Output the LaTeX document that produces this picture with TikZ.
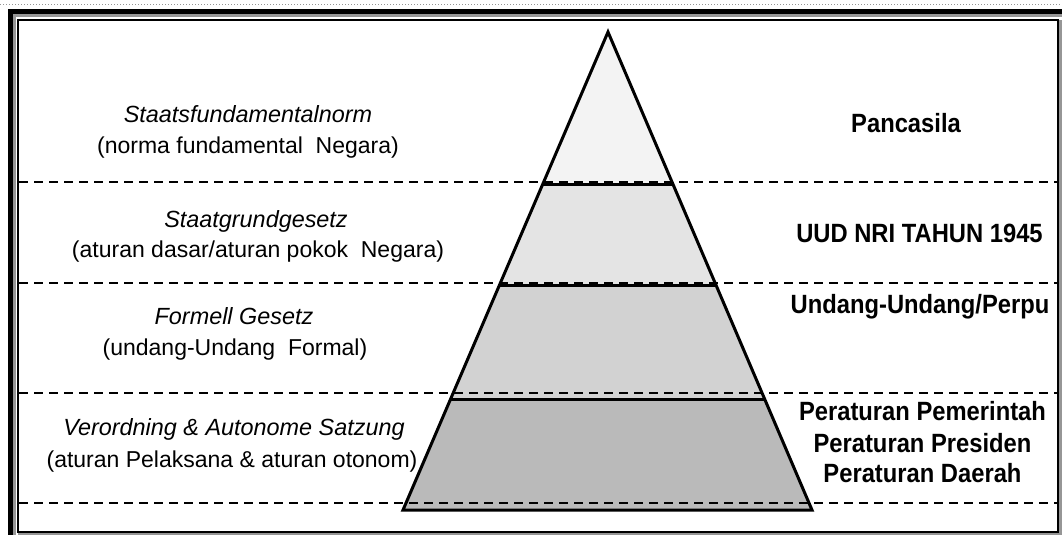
\documentclass[tikz,border=0pt]{standalone}
\usepackage{fontspec}
\setmainfont{Liberation Sans}
\newfontfamily\lblbfont{Liberation Sans}[FakeStretch=0.9]
\usetikzlibrary{calc}
\definecolor{lvl_a}{RGB}{243,243,243}
\definecolor{lvl_b}{RGB}{228,228,228}
\definecolor{lvl_c}{RGB}{210,210,210}
\definecolor{lvl_d}{RGB}{186,186,186}
\definecolor{rim}{RGB}{150,150,150}
\tikzstyle{lbl}=[inner sep=0pt,anchor=base,font=\fontsize{23}{31}\selectfont]
\tikzstyle{lbli}=[lbl,font=\fontsize{23.4}{31}\selectfont\itshape]
\tikzstyle{lblb}=[lbl,font=\fontsize{26.4}{31}\lblbfont\bfseries]
\tikzstyle{sep}=[line width=2.4pt,dash pattern=on 9pt off 6pt]
\tikzstyle{layer}=[line width=3pt]

\begin{document}
\begin{tikzpicture}[x=1pt,y=-1pt]
    \useasboundingbox (0,0) rectangle (1062,535);
    \draw[rim,dotted,line width=1pt] (0,5) -- (1062,5);
    \draw[line width=5pt] (10.5,535) -- (10.5,11.5) -- (1062,11.5);
    \draw[rim,line width=2.5pt] (14.5,535) -- (14.5,15.5) -- (1062,15.5);
    \draw[rim,line width=2.5pt] (18,534) -- (1060.5,534) -- (1060.5,20);
    \draw[line width=1.3pt] (18,20) rectangle (1058,532);
    \coordinate (apex) at (608,32);
    \coordinate (bl) at (403,510);
    \coordinate (br) at (812,510);
    \foreach \ta/\tb/\col in {0/0.318/lvl_a,0.318/0.531/lvl_b,0.531/0.768/lvl_c,0.768/1/lvl_d}
      \fill[\col] ($(apex)!\ta!(bl)$) -- ($(apex)!\tb!(bl)$) -- ($(apex)!\tb!(br)$) -- ($(apex)!\ta!(br)$) -- cycle;
    \foreach \y in {182,283,393,503}
      \draw[sep] (19,\y) -- (1057,\y);
    \foreach \t in {0.318,0.531,0.768}
      \draw[layer] ($(apex)!\t!(bl)$) -- ($(apex)!\t!(br)$);
    \draw[layer] (apex) -- (bl) -- (br) -- cycle;
    \node[lbli] (sfn) at (248,122) {Staatsfundamentalnorm};
    \node[lbl] (sfnid) at (248,153) {(norma fundamental\ \ Negara)};
    \node[lbli] (sgg) at (256,227) {Staatgrundgesetz};
    \node[lbl] (sggid) at (258,257) {(aturan dasar/aturan pokok\ \ Negara)};
    \node[lbli] (fg) at (234,324) {Formell Gesetz};
    \node[lbl] (fgid) at (235,355) {(undang-Undang\ \ Formal)};
    \node[lbli] (vas) at (234,435) {Verordning \& Autonome Satzung};
    \node[lbl] (vasid) at (232,467) {(aturan Pelaksana \& aturan otonom)};
    \node[lblb] (pcs) at (906,132) {Pancasila};
    \node[lblb] (uud) at (919.5,242) {UUD NRI TAHUN 1945};
    \node[lblb] (uu) at (920,313) {Undang-Undang/Perpu};
    \node[lblb] (pp) at (922.5,420) {Peraturan Pemerintah};
    \node[lblb] (pres) at (922.5,452) {Peraturan Presiden};
    \node[lblb] (perda) at (922.5,482) {Peraturan Daerah};
  \end{tikzpicture}
\end{document}
